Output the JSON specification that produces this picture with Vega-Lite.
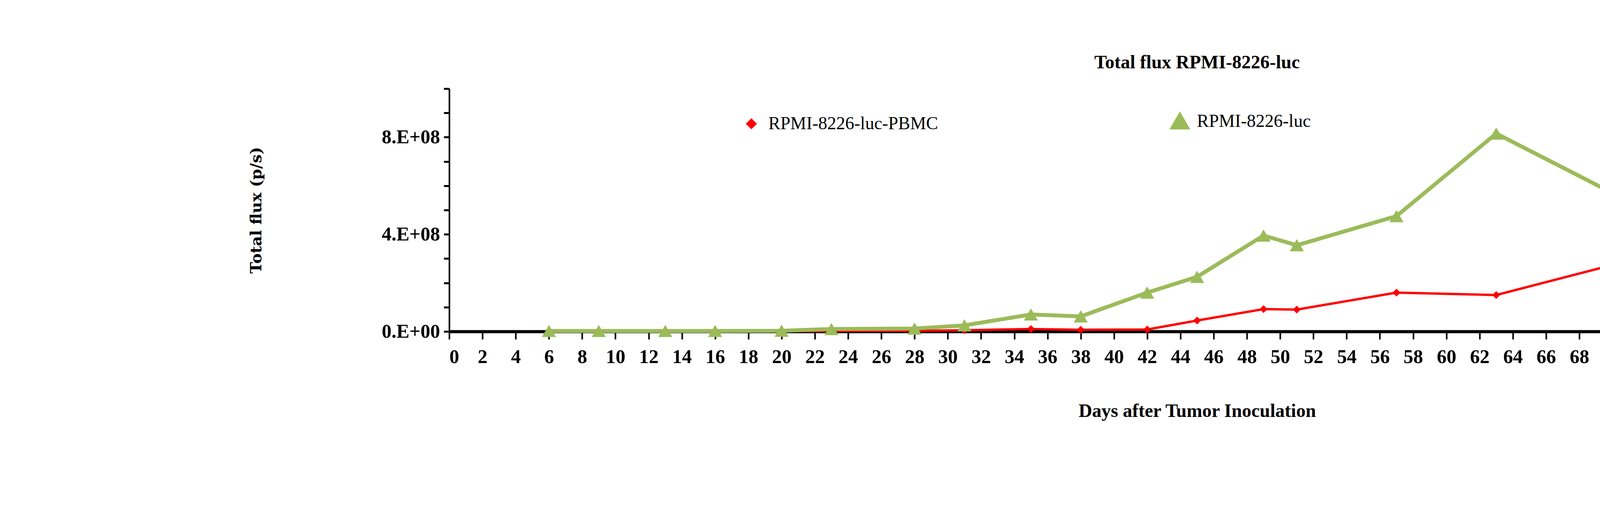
{
  "$schema": "https://vega.github.io/schema/vega-lite/v6.json",
  "width": 5084,
  "height": 1355,
  "autosize": {"type": "fit", "contains": "padding"},
  "padding": {"left": 636, "top": 136, "right": 103, "bottom": 278},
  "background": "white",
  "title": {"text": "Total flux RPMI-8226-luc", "font": "Liberation Serif", "fontSize": 48, "fontWeight": "bold", "offset": 40, "anchor": "middle"},
  "config": {"view": {"stroke": null}},
  "data": {"values": [
    {"day": 6, "flux": 1000000, "group": "RPMI-8226-luc-PBMC"},
    {"day": 9, "flux": 1000000, "group": "RPMI-8226-luc-PBMC"},
    {"day": 13, "flux": 1000000, "group": "RPMI-8226-luc-PBMC"},
    {"day": 16, "flux": 1000000, "group": "RPMI-8226-luc-PBMC"},
    {"day": 20, "flux": 1500000, "group": "RPMI-8226-luc-PBMC"},
    {"day": 23, "flux": 2000000, "group": "RPMI-8226-luc-PBMC"},
    {"day": 28, "flux": 3000000, "group": "RPMI-8226-luc-PBMC"},
    {"day": 31, "flux": 5000000, "group": "RPMI-8226-luc-PBMC"},
    {"day": 35, "flux": 10000000, "group": "RPMI-8226-luc-PBMC"},
    {"day": 38, "flux": 7000000, "group": "RPMI-8226-luc-PBMC"},
    {"day": 42, "flux": 8000000, "group": "RPMI-8226-luc-PBMC"},
    {"day": 45, "flux": 45000000, "group": "RPMI-8226-luc-PBMC"},
    {"day": 49, "flux": 92000000, "group": "RPMI-8226-luc-PBMC"},
    {"day": 51, "flux": 90000000, "group": "RPMI-8226-luc-PBMC"},
    {"day": 57, "flux": 160000000, "group": "RPMI-8226-luc-PBMC"},
    {"day": 63, "flux": 150000000, "group": "RPMI-8226-luc-PBMC"},
    {"day": 85, "flux": 540000000, "group": "RPMI-8226-luc-PBMC"},
    {"day": 6, "flux": 2000000, "group": "RPMI-8226-luc"},
    {"day": 9, "flux": 2000000, "group": "RPMI-8226-luc"},
    {"day": 13, "flux": 2000000, "group": "RPMI-8226-luc"},
    {"day": 16, "flux": 2000000, "group": "RPMI-8226-luc"},
    {"day": 20, "flux": 3000000, "group": "RPMI-8226-luc"},
    {"day": 23, "flux": 10000000, "group": "RPMI-8226-luc"},
    {"day": 28, "flux": 12000000, "group": "RPMI-8226-luc"},
    {"day": 31, "flux": 25000000, "group": "RPMI-8226-luc"},
    {"day": 35, "flux": 70000000, "group": "RPMI-8226-luc"},
    {"day": 38, "flux": 62000000, "group": "RPMI-8226-luc"},
    {"day": 42, "flux": 160000000, "group": "RPMI-8226-luc"},
    {"day": 45, "flux": 225000000, "group": "RPMI-8226-luc"},
    {"day": 49, "flux": 395000000, "group": "RPMI-8226-luc"},
    {"day": 51, "flux": 355000000, "group": "RPMI-8226-luc"},
    {"day": 57, "flux": 475000000, "group": "RPMI-8226-luc"},
    {"day": 63, "flux": 815000000, "group": "RPMI-8226-luc"},
    {"day": 85, "flux": 45000000, "group": "RPMI-8226-luc"}
  ]},
  "encoding": {
    "x": {"field": "day", "type": "quantitative", "scale": {"domain": [0, 90], "nice": false},
      "axis": {"title": "Days after Tumor Inoculation", "values": [0,2,4,6,8,10,12,14,16,18,20,22,24,26,28,30,32,34,36,38,40,42,44,46,48,50,52,54,56,58,60,62,64,66,68,70,72,74,76,78,80,82,84,86,88,90],
        "grid": false, "domainColor": "black", "domainWidth": 8, "tickColor": "black", "tickWidth": 4, "tickSize": 20,
        "labelFont": "Liberation Serif", "labelFontSize": 50, "labelFontWeight": "bold", "labelColor": "black", "labelPadding": 20,
        "titleFont": "Liberation Serif", "titleFontSize": 48, "titleFontWeight": "bold", "titleColor": "black", "titlePadding": 90}},
    "y": {"field": "flux", "type": "quantitative", "scale": {"domain": [0, 1000000000], "nice": false},
      "axis": {"title": "Total flux  (p/s)", "values": [0,100000000,200000000,300000000,400000000,500000000,600000000,700000000,800000000,900000000,1000000000],
        "labelExpr": "datum.value == 0 ? '0.E+00' : datum.value == 400000000 ? '4.E+08' : datum.value == 800000000 ? '8.E+08' : ''",
        "grid": false, "domainColor": "black", "domainWidth": 4, "tickColor": "black", "tickWidth": 5, "tickSize": 14,
        "labelFont": "Liberation Serif", "labelFontSize": 50, "labelFontWeight": "bold", "labelColor": "black", "labelPadding": 10,
        "titleFont": "DejaVu Serif", "titleFontSize": 40, "titleFontWeight": "bold", "titleColor": "black", "titlePadding": 300}},
    "color": {"field": "group", "type": "nominal",
      "scale": {"domain": ["RPMI-8226-luc-PBMC", "RPMI-8226-luc"], "range": ["#FF0000", "#9BBB59"]},
      "legend": {"title": null, "orient": "none", "legendX": 750, "legendY": 60, "direction": "horizontal", "columns": 2, "columnPadding": 580,
        "labelFont": "Liberation Serif", "labelFontSize": 46, "labelColor": "black", "labelLimit": 0, "symbolSize": 900, "symbolStrokeWidth": 0, "labelOffset": 20}}
  },
  "layer": [
    {"mark": {"type": "line"}, "encoding": {"strokeWidth": {"field": "group", "type": "nominal", "scale": {"domain": ["RPMI-8226-luc-PBMC", "RPMI-8226-luc"], "range": [6, 10]}, "legend": null}}},
    {"mark": {"type": "point", "filled": true, "opacity": 1}, "encoding": {
      "shape": {"field": "group", "type": "nominal", "scale": {"domain": ["RPMI-8226-luc-PBMC", "RPMI-8226-luc"], "range": ["diamond", "triangle-up"]}},
      "size": {"field": "group", "type": "nominal", "scale": {"domain": ["RPMI-8226-luc-PBMC", "RPMI-8226-luc"], "range": [400, 1300]}, "legend": null}}}
  ]
}
